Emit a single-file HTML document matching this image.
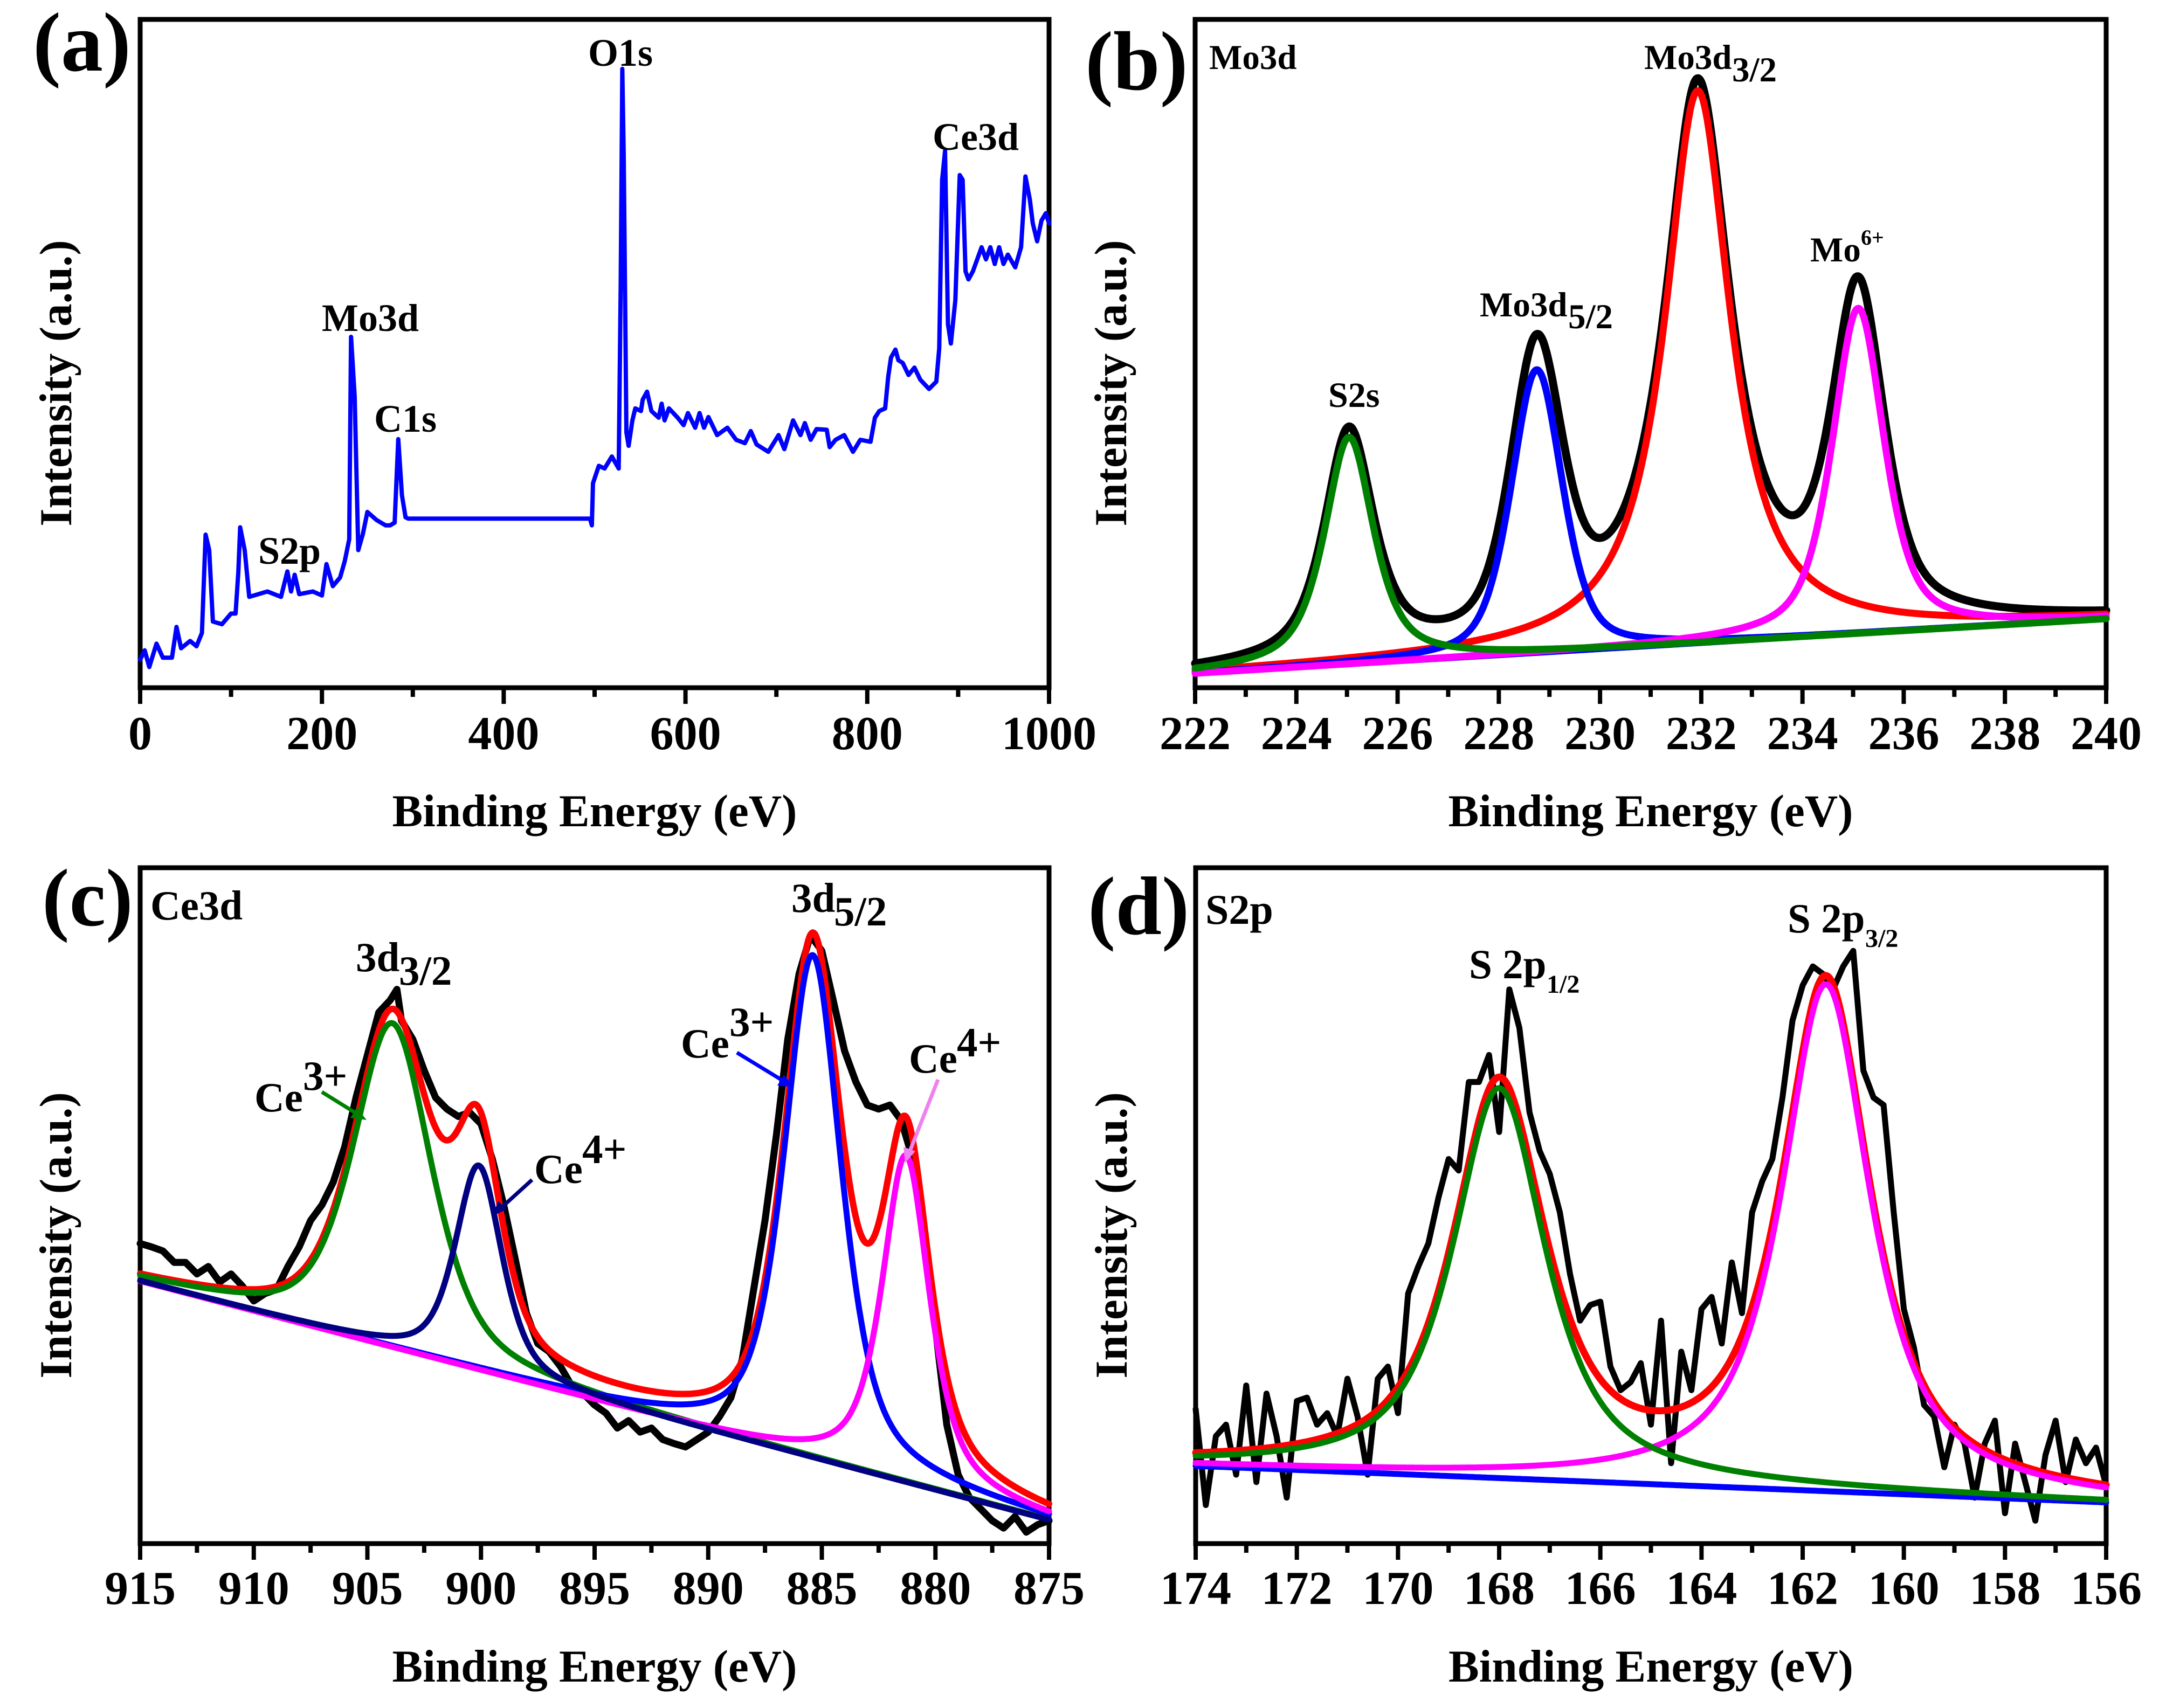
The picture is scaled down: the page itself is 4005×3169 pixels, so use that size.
<!DOCTYPE html>
<html><head><meta charset="utf-8"><style>
html,body{margin:0;padding:0;background:#fff;}
svg{display:block;}
text{font-family:"Liberation Serif","Times New Roman",serif;font-weight:bold;fill:#000;}
</style></head><body>
<svg id="fig" xmlns="http://www.w3.org/2000/svg" width="4005" height="3169" viewBox="0 0 4005 3169">
<rect x="0" y="0" width="4005" height="3169" fill="#fff"/>
<g id="layer-plots"></g>
<text x="61" y="131" font-size="156">(a)</text>
<text x="2013" y="166" font-size="156">(b)</text>
<text x="78" y="1717" font-size="152">(c)</text>
<text x="2018" y="1733" font-size="154">(d)</text>
<text x="1091" y="122" font-size="72">O1s</text>
<text x="1730" y="278" font-size="72">Ce3d</text>
<text x="597" y="614" font-size="72">Mo3d</text>
<text x="694" y="801" font-size="72">C1s</text>
<text x="479" y="1046" font-size="72">S2p</text>
<text x="2243" y="128" font-size="65">Mo3d</text>
<text x="3050" y="128" font-size="65">Mo3d</text>
<text x="3213" y="151" font-size="65">3/2</text>
<text x="2745" y="587" font-size="65">Mo3d</text>
<text x="2909" y="609" font-size="65">5/2</text>
<text x="3358" y="485" font-size="65">Mo</text>
<text x="3452" y="454" font-size="40">6+</text>
<text x="2464" y="755" font-size="66">S2s</text>
<text x="279" y="1706" font-size="77">Ce3d</text>
<text x="1468" y="1692" font-size="77">3d</text>
<text x="1547" y="1717" font-size="77">5/2</text>
<text x="660" y="1802" font-size="77">3d</text>
<text x="740" y="1827" font-size="77">3/2</text>
<text x="472" y="2062" font-size="77">Ce</text>
<text x="562" y="2022" font-size="77">3+</text>
<text x="991" y="2195" font-size="77">Ce</text>
<text x="1080" y="2158" font-size="77">4+</text>
<text x="1263" y="1962" font-size="77">Ce</text>
<text x="1353" y="1922" font-size="77">3+</text>
<text x="1686" y="1990" font-size="77">Ce</text>
<text x="1775" y="1960" font-size="77">4+</text>
<line x1="597" y1="2026" x2="671" y2="2072" stroke="#008000" stroke-width="7"/>
<polygon points="680,2078 650,2074 662,2055" fill="#008000"/>
<line x1="987" y1="2189" x2="922" y2="2248" stroke="#000080" stroke-width="7"/>
<polygon points="914,2256 924,2228 940,2244" fill="#000080"/>
<line x1="1367" y1="1953" x2="1462" y2="2011" stroke="#0000ff" stroke-width="7"/>
<polygon points="1472,2017 1442,2014 1454,1994" fill="#0000ff"/>
<line x1="1740" y1="2003" x2="1683" y2="2148" stroke="#ee82ee" stroke-width="7"/>
<polygon points="1679,2158 1676,2128 1698,2136" fill="#ee82ee"/>
<text x="2236" y="1714" font-size="78">S2p</text>
<text x="2725" y="1815" font-size="77">S 2p</text>
<text x="2869" y="1842" font-size="48">1/2</text>
<text x="3316" y="1730" font-size="77">S 2p</text>
<text x="3460" y="1757" font-size="48">3/2</text>
</svg>
<script>
// ---------- Panel (a) survey data ----------
const surveyE = [0,5,10,18,25,35,40,45,55,62,68,72,76,80,90,100,105,108,110,115,120,140,155,162,166,170,175,190,200,205,212,220,225,230,232,236,240,245,250,260,270,275,280,284,288,292,295,495,497,
498.2,504.6,511,519,526.5,528.7,530.5,532,535,537.4,541.6,544.8,551,552.9,557.7,562.5,570.5,573.8,577,581.8,591.4,597.9,602.7,610.7,615.5,620.4,625.2,634.8,646.1,655.7,665.4,671.8,678.2,691.1,702.4,708.8,718.4,726.5,731.3,737.7,744.2,755.4,758.6,765.1,774.7,784.3,792.4,803.6,808.4,813.3,819.7,823,826.1,831,834.2,839,845.4,851.9,858.3,868,876,879.2,882.4,885.6,888.8,892,896.9,901.7,904.9,908.1,911.3,916.2,925.8,930.6,935.4,940.3,945.1,949.9,954.7,962.8,969.2,974,978.8,982.1,986.9,991.7,996.5,1000];
const surveyI = [4.2,5.6,3.1,6.6,4.5,4.5,9.1,5.9,7.0,6.2,8.2,22.9,20.6,9.9,9.5,11.1,11.1,17.3,24.0,20.6,13.6,14.4,13.6,17.4,14.4,16.9,14.0,14.4,13.8,18.5,15.2,16.5,18.9,22.2,52.5,43.6,20.6,23.0,26.3,25.1,24.3,24.3,24.7,37.2,28.8,25.5,25.3,25.3,24.3,
30.6,33.2,32.8,34.6,32.8,60,92.6,79.6,38.2,36.2,40,41.8,41.4,43.1,44.3,41.4,40.4,42.5,40,41.8,40.4,39.3,41.1,38.9,41.1,38.9,40.5,37.8,38.9,37.1,36.6,38.4,36.4,35.3,37.8,35.7,40,37.8,39.6,37.1,38.7,38.6,36.0,37.1,37.8,35.3,37.1,36.8,40.4,41.4,41.8,46.5,49.4,50.6,49,48.6,46.8,47.9,46.1,44.7,45.8,50.8,76,80.3,54.4,51.5,58,76.7,76,62.3,61.1,62.3,65.9,64.1,65.9,63.4,65.9,63.4,64.8,62.9,65.9,76.5,73.1,69.5,66.8,69.9,71,69.5];
const aTicks = ['0','200','400','600','800','1000'];

// ---------- Panel (b) Mo3d fit components ----------
const bCenters = [225.04, 228.75, 231.93, 235.1];
const bHeights = [34, 42.4, 82.7, 48.7];
const bFwhm = [1.16, 1.2, 1.57, 1.22];
const bEta = [0.7, 0.45, 0.95, 0.6];
const bBaseline = [2.1, 10.3];
const bTicks = ['222','224','226','228','230','232','234','236','238','240'];

// ---------- Panel (c) Ce3d ----------
const cCenters = [903.9, 900.1, 885.4, 881.3];
const cHeights = [48, 30.3, 74.4, 48.4];
const cFwhm = [4.1, 2.45, 3.0, 2.5];
const cEta = [0.55, 0.6, 0.6, 0.7];
const cBaseline = [38.8, 3.5];
const cRawE = [915,914.5,914,913.5,913,912.5,912,911.5,911,910.5,910,909.5,909,908.5,908,907.5,907,906.5,906,905.5,905,904.5,904,903.7,903.5,903,902.5,902,901.5,901,900.5,900,899.5,899,898.5,898,897.5,897,896.5,896,895.5,895,894.5,894,893.5,893,892.5,892,891.5,891,890.5,890,889.5,889,888.5,888,887.5,887,886.5,886,885.5,885,884.5,884,883.5,883,882.5,882,881.5,881,880.5,880,879.5,879,878.5,878,877.5,877,876.5,876,875.5,875];
const cRawI = [44.4,43.9,43.3,41.6,41.6,39.9,41.0,38.7,39.9,38.1,35.9,37.0,37.6,41.0,43.9,47.8,50.1,53.5,58.7,66.0,72.3,78.6,80.4,82.0,77.4,74.6,70.0,66.0,64.3,63.2,63.8,62.1,56.9,50.1,42.2,34.1,29.6,28.4,26.2,23.3,22.2,20.5,19.3,17.1,18.2,16.5,17.1,15.4,14.8,14.3,15.4,16.5,18.8,21.6,27.3,37.6,47.8,60.4,74.6,84.3,90.0,87.7,80.4,72.9,68.3,64.9,64.3,64.9,62.6,56.9,46.1,31.9,17.6,10.2,6.8,5.1,3.4,2.3,4.0,1.7,2.8,3.4];
const cTicks = ['915','910','905','900','895','890','885','880','875'];

// ---------- Panel (d) S2p ----------
const dCenters = [168.0, 161.54];
const dHeights = [57.7, 75];
const dFwhm = [2.2, 2.1];
const dEta = [0.8, 0.85];
const dBaseline = [11.5, 6.1];
const dRawE = [174,173.8,173.6,173.4,173.2,173,172.8,172.6,172.4,172.2,172,171.8,171.6,171.4,171.2,171,170.8,170.6,170.4,170.2,170,169.8,169.6,169.4,169.2,169,168.8,168.6,168.4,168.2,168,167.8,167.6,167.4,167.2,167,166.8,166.6,166.4,166.2,166,165.8,165.6,165.4,165.2,165,164.8,164.6,164.4,164.2,164,163.8,163.6,163.4,163.2,163,162.8,162.6,162.4,162.2,162,161.8,161.6,161.4,161.2,161,160.8,160.6,160.4,160.2,160,159.8,159.6,159.4,159.2,159,158.8,158.6,158.4,158.2,158,157.8,157.6,157.4,157.2,157,156.8,156.6,156.4,156.2,156];
const dRawI = [19.9,5.7,15.9,17.6,10.2,23.4,9.1,22.2,15.9,6.8,21.1,21.6,17.6,19.3,15.9,24.4,18.8,10.2,24.4,26.2,19.3,37.0,41.0,44.4,51.2,56.9,55.2,68.3,68.3,72.3,60.9,82.0,76.3,63.8,58.1,54.7,49.0,39.9,33.0,35.3,35.8,26.2,22.7,23.9,26.7,17.6,33.0,11.9,28.4,22.7,34.7,36.5,29.6,41.6,34.1,49.0,53.6,56.9,66.0,77.4,82.6,85.4,84.3,82.0,85.4,87.7,70.0,66.0,64.9,49.0,34.7,29.0,20.5,18.8,11.3,17.6,14.8,6.8,14.8,18.2,4.5,14.8,9.1,3.4,13.1,18.2,9.1,15.4,11.9,14.2,8.6];
const dTicks = ['174','172','170','168','166','164','162','160','158','156'];

// ---------- helpers ----------
const NS = 'http://www.w3.org/2000/svg';
const root = document.getElementById('layer-plots');
function mk(tag, parent){ const e = document.createElementNS(NS, tag); parent.appendChild(e); return e; }
function pv(x, c, h, fw, eta){ const w = fw/2; const u = (x-c)/w; return h*(eta/(1+u*u) + (1-eta)*Math.exp(-Math.LN2*u*u)); }
function makeAxes(p){
  p.sx = e => p.x0 + (e - p.emin)/(p.emax - p.emin)*(p.x1 - p.x0);
  p.sy = v => p.y1 - v/100*(p.y1 - p.y0);
}
function pathFrom(p, es, vs){
  let d = '';
  for (let i=0;i<es.length;i++){ d += (i?'L':'M') + p.sx(es[i]).toFixed(1) + ',' + p.sy(vs[i]).toFixed(1); }
  return d;
}
function drawFrame(p, name, ticks, titleY, labelY){
  const g = mk('g', root);
  
  
  const r = mk('rect', g);
  
  
  r.setAttribute('x', p.x0); r.setAttribute('y', p.y0);
  r.setAttribute('width', p.x1-p.x0); r.setAttribute('height', p.y1-p.y0);
  r.setAttribute('fill', 'none'); r.setAttribute('stroke', '#000'); r.setAttribute('stroke-width', '9');
  const vals = ticks.map(Number);
  const step = vals[1]-vals[0];
  for (let i=0;i<vals.length;i++){
    const x = p.sx(vals[i]);
    const t = mk('line', g);
    
    
    t.setAttribute('x1', x); t.setAttribute('x2', x); t.setAttribute('y1', p.y1); t.setAttribute('y2', p.y1+30);
    t.setAttribute('stroke', '#000'); t.setAttribute('stroke-width', '8');
    const lb = mk('text', g);
    
    
    lb.setAttribute('x', x); lb.setAttribute('y', labelY);
    lb.setAttribute('font-size', '88'); lb.setAttribute('text-anchor', 'middle');
    lb.textContent = ticks[i];
    if (i < vals.length-1){
      const xm = p.sx(vals[i] + step/2);
      const m = mk('line', g);
      
      
      m.setAttribute('x1', xm); m.setAttribute('x2', xm); m.setAttribute('y1', p.y1); m.setAttribute('y2', p.y1+17);
      m.setAttribute('stroke', '#000'); m.setAttribute('stroke-width', '8');
    }
  }
  const xt = mk('text', g);
  
  
  xt.setAttribute('x', (p.x0+p.x1)/2); xt.setAttribute('y', titleY);
  xt.setAttribute('font-size', '85'); xt.setAttribute('text-anchor', 'middle');
  xt.textContent = 'Binding Energy (eV)';
  const yt = mk('text', g);
  
  
  const yx = p.x0 - 128, yc = (p.y0+p.y1)/2 + 55;
  yt.setAttribute('x', yx); yt.setAttribute('y', yc);
  yt.setAttribute('transform', 'rotate(-90 ' + yx + ' ' + yc + ')');
  yt.setAttribute('font-size', '85'); yt.setAttribute('text-anchor', 'middle');
  yt.textContent = 'Intensity (a.u.)';
}
function drawLine(p, name, d, color, width){
  const pa = mk('path', root);
  
  
  pa.setAttribute('d', d); pa.setAttribute('fill', 'none');
  pa.setAttribute('stroke', color); pa.setAttribute('stroke-width', width);
  pa.setAttribute('stroke-linejoin', 'round'); pa.setAttribute('stroke-linecap', 'round');
}
function fitCurves(p, centers, heights, fwhm, eta, base, stepE){
  const lo = Math.min(p.emin,p.emax), hi = Math.max(p.emin,p.emax);
  const es = [];
  for (let e=lo; e<=hi+1e-9; e+=stepE) es.push(e);
  const baseAt = e => base[0] + (base[1]-base[0])*(e - p.emin)/(p.emax - p.emin);
  const comps = centers.map((c,k) => es.map(e => baseAt(e) + pv(e, c, heights[k], fwhm[k], eta[k])));
  const env = es.map(e => baseAt(e) + centers.reduce((s,c,k)=> s + pv(e,c,heights[k],fwhm[k],eta[k]), 0));
  const bl = es.map(baseAt);
  return {es, comps, env, bl};
}

const PA = {x0:260, x1:1946, y0:36, y1:1276, emin:0, emax:1000};
makeAxes(PA);
drawFrame(PA, 'panel-a', aTicks, 1533, 1390);
drawLine(PA, 'survey-spectrum-line', pathFrom(PA, surveyE, surveyI), '#0000ff', 8);

const PB = {x0:2217, x1:3907, y0:36, y1:1276, emin:222, emax:240};
makeAxes(PB);
drawFrame(PB, 'panel-b', bTicks, 1533, 1390);
const fb = fitCurves(PB, bCenters, bHeights, bFwhm, bEta, bBaseline, 0.02);
drawLine(PB, 'mo3d-envelope-black', pathFrom(PB, fb.es, fb.env), '#000000', 15);
drawLine(PB, 'mo3d32-component-red', pathFrom(PB, fb.es, fb.comps[2]), '#ff0000', 13);
drawLine(PB, 'mo3d-baseline-blue', pathFrom(PB, fb.es, fb.bl), '#0000ff', 10);
drawLine(PB, 'mo3d52-component-blue', pathFrom(PB, fb.es, fb.comps[1]), '#0000ff', 13);
drawLine(PB, 'mo6-component-magenta', pathFrom(PB, fb.es, fb.comps[3]), '#ff00ff', 13);
drawLine(PB, 's2s-component-green', pathFrom(PB, fb.es, fb.comps[0]), '#008000', 13);

const PC = {x0:260, x1:1946, y0:1610, y1:2864, emin:915, emax:875};
makeAxes(PC);
drawFrame(PC, 'panel-c', cTicks, 3120, 2976);
drawLine(PC, 'ce3d-raw-black', pathFrom(PC, cRawE, cRawI), '#000000', 13);
const fc = fitCurves(PC, cCenters, cHeights, cFwhm, cEta, cBaseline, 0.05);
drawLine(PC, 'ce3d-envelope-red', pathFrom(PC, fc.es, fc.env), '#ff0000', 12);
drawLine(PC, 'ce3-903-component-green', pathFrom(PC, fc.es, fc.comps[0]), '#008000', 11);
drawLine(PC, 'ce3-885-component-blue', pathFrom(PC, fc.es, fc.comps[2]), '#0000ff', 11);
drawLine(PC, 'ce4-881-component-magenta', pathFrom(PC, fc.es, fc.comps[3]), '#ff00ff', 11);
drawLine(PC, 'ce4-900-component-navy', pathFrom(PC, fc.es, fc.comps[1]), '#000080', 11);

const PD = {x0:2218, x1:3907, y0:1610, y1:2864, emin:174, emax:156};
makeAxes(PD);
drawFrame(PD, 'panel-d', dTicks, 3120, 2976);
drawLine(PD, 's2p-raw-black', pathFrom(PD, dRawE, dRawI), '#000000', 11);
const fd = fitCurves(PD, dCenters, dHeights, dFwhm, dEta, dBaseline, 0.03);
drawLine(PD, 's2p-baseline-blue', pathFrom(PD, fd.es, fd.bl), '#0000ff', 11);
drawLine(PD, 's2p-envelope-red', pathFrom(PD, fd.es, fd.env), '#ff0000', 13);
drawLine(PD, 's2p32-component-magenta', pathFrom(PD, fd.es, fd.comps[1]), '#ff00ff', 11);
drawLine(PD, 's2p12-component-green', pathFrom(PD, fd.es, fd.comps[0]), '#008000', 11);
</script>
</body></html>
